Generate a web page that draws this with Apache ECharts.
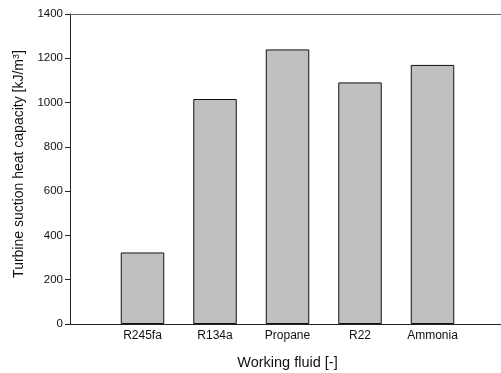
<!DOCTYPE html>
<html><head><meta charset="utf-8">
<script src="https://cdn.jsdelivr.net/npm/echarts@6/dist/echarts.min.js"></script>
<style>html,body{margin:0;padding:0;background:#fff}#c{width:501px;height:373px}</style>
</head><body><div id="c"></div>
<script>
var categories = ['', 'R245fa', 'R134a', 'Propane', 'R22', 'Ammonia', ''];
var values = [null, 323, 1016, 1240, 1091, 1170, null];
var yTicks = [0, 200, 400, 600, 800, 1000, 1200, 1400];

var chart = echarts.init(document.getElementById('c'), null, {renderer: 'canvas'});
var font = 'Liberation Sans, Arial, sans-serif';
chart.setOption({
  animation: false,
  grid: {left: 70, top: 14, bottom: 49, right: -4, outerBoundsMode: 'none', containLabel: false},
  xAxis: [{
    type: 'category', data: categories, boundaryGap: false, position: 'bottom',
    axisLine: {lineStyle: {color: '#222', width: 1}},
    axisTick: {show: false},
    axisLabel: {color: '#111', fontFamily: font, fontSize: 12, margin: 6, interval: 0},
    name: 'Working fluid [-]', nameLocation: 'middle', nameGap: 31,
    nameTextStyle: {color: '#111', fontFamily: font, fontSize: 14.5}
  }, {
    type: 'category', data: categories, boundaryGap: false, position: 'top',
    axisLine: {lineStyle: {color: '#666', width: 1}},
    axisTick: {show: false}, axisLabel: {show: false}
  }],
  yAxis: {
    type: 'value', min: yTicks[0], max: yTicks[yTicks.length - 1], interval: 200,
    axisLine: {show: true, lineStyle: {color: '#222', width: 1}},
    axisTick: {show: true, inside: false, length: 5, lineStyle: {color: '#222'}},
    splitLine: {show: false},
    axisLabel: {color: '#111', fontFamily: font, fontSize: 11.5, margin: 7,
      formatter: function (v) { return String(v); }},
    name: 'Turbine suction heat capacity [kJ/m{sup|3}]', nameLocation: 'middle', nameGap: 42, nameRotate: 90,
    nameTextStyle: {color: '#111', fontFamily: font, fontSize: 14, padding: [0, 0, 0, 10],
      rich: {sup: {fontSize: 9, verticalAlign: 'top', padding: [0, 0, 7, 0], fontFamily: font, color: '#111'}}}
  },
  series: [{
    type: 'bar', data: values, barWidth: 43.5, xAxisIndex: 0,
    itemStyle: {color: '#c0c0c0', borderColor: '#111', borderWidth: 1}
  }]
});
</script></body></html>
